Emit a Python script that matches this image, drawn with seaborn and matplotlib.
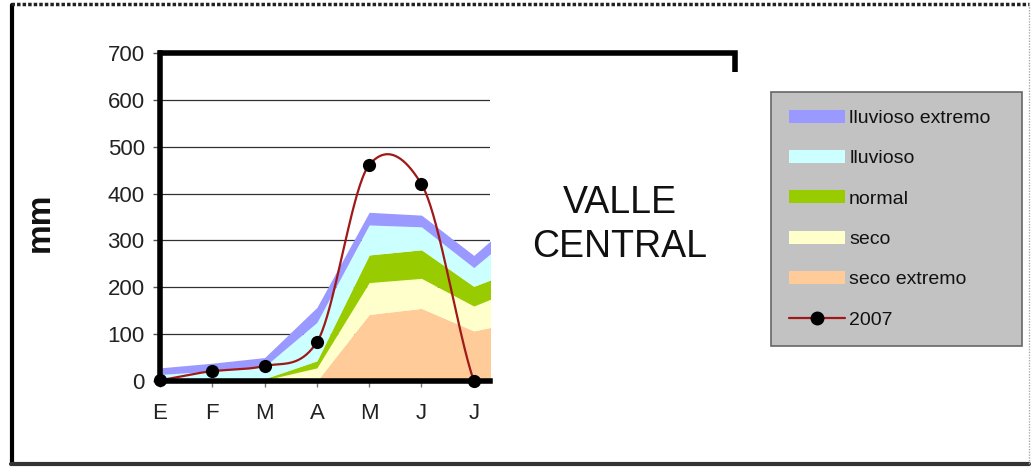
import numpy as np
import matplotlib
matplotlib.use("Agg")
import matplotlib.pyplot as plt
from matplotlib.lines import Line2D
from matplotlib.patches import Patch
import seaborn as sns

# Months (Spanish initials); the last one lies just past the visible range
months = ["E", "F", "M", "A", "M", "J", "J", "A"]

# Monthly rainfall bands (mm), stacked from the bottom up
seco_extremo = [0, 0, 0, 0, 142, 155, 107, 130]
seco = [1, 1, 2, 28, 68, 64, 53, 75]
normal = [1, 2, 3, 15, 59, 61, 42, 40]
lluvioso = [12, 18, 26, 82, 64, 49, 40, 90]
lluvioso_extremo = [14, 17, 19, 32, 27, 25, 26, 30]

# Observed rainfall 2007, January to July (mm)
obs_2007 = [2, 21, 32, 83, 461, 420, 0]

band_names = ["seco extremo", "seco", "normal", "lluvioso", "lluvioso extremo"]
band_colors = ["#ffcc99", "#ffffcc", "#99cc00", "#ccffff", "#9999ff"]

sns.set_theme(style="white")
plt.rcParams["font.family"] = ["Liberation Sans", "DejaVu Sans"]

W, H = 1031, 467
fig = plt.figure(figsize=(W / 100, H / 100), dpi=100)
fig.patch.set_facecolor("white")


def fx(px):
    return px / W


def fy(py):
    return 1 - py / H


ax = fig.add_axes([fx(160), fy(381), fx(490) - fx(160), fy(53) - fy(381)])
ax.set_facecolor("white")

x = np.arange(len(months))
bands = [seco_extremo, seco, normal, lluvioso, lluvioso_extremo]
base = np.zeros(len(months))
for vals, color in zip(bands, band_colors):
    top = base + np.asarray(vals, dtype=float)
    ax.fill_between(x, base, top, color=color, linewidth=0, zorder=2)
    base = top


def smooth(xs, ys, n=40, tension=0.8):
    """Cardinal-spline curve through the points, like a smoothed line chart."""
    xs = np.asarray(xs, float)
    ys = np.asarray(ys, float)
    px = np.concatenate([[2 * xs[0] - xs[1]], xs, [2 * xs[-1] - xs[-2]]])
    py = np.concatenate([[2 * ys[0] - ys[1]], ys, [2 * ys[-1] - ys[-2]]])
    out_x, out_y = [], []
    for i in range(1, len(px) - 2):
        t = np.linspace(0, 1, n, endpoint=False)
        p0, p1, p2, p3 = py[i - 1], py[i], py[i + 1], py[i + 2]
        m1 = tension * (p2 - p0) / 2
        m2 = tension * (p3 - p1) / 2
        h00 = 2 * t**3 - 3 * t**2 + 1
        h10 = t**3 - 2 * t**2 + t
        h01 = -2 * t**3 + 3 * t**2
        h11 = t**3 - t**2
        out_y.append(h00 * p1 + h10 * m1 + h01 * p2 + h11 * m2)
        out_x.append(px[i] + t * (px[i + 1] - px[i]))
    out_x.append([xs[-1]])
    out_y.append([ys[-1]])
    return np.concatenate(out_x), np.concatenate(out_y)


sx, sy = smooth(np.arange(len(obs_2007)), obs_2007)
sns.lineplot(x=sx, y=sy, ax=ax, color="#a01818", linewidth=1.6, sort=False,
             zorder=4, clip_on=False)
sns.scatterplot(x=np.arange(len(obs_2007)), y=obs_2007, ax=ax, color="black",
                s=90, edgecolor="black", linewidth=0, zorder=5, clip_on=False)

ax.set_yticks(range(0, 701, 100))
ax.set_xticks(x)
ax.set_xticklabels(months)
ax.set_xlim(0, 6.31)
ax.set_ylim(0, 700)
for yv in range(100, 700, 100):
    ax.axhline(yv, color="#303030", linewidth=0.9, zorder=1)

for side in ["top", "right"]:
    ax.spines[side].set_visible(False)
for side in ["left", "bottom"]:
    ax.spines[side].set_linewidth(4.0)
    ax.spines[side].set_color("black")
    ax.spines[side].set_zorder(6)
ax.spines["bottom"].set_capstyle("projecting")

ax.tick_params(axis="y", which="major", left=True, length=5, width=1,
               color="#555555", labelsize=16, pad=6, labelcolor="#222222")
ax.tick_params(axis="x", which="major", bottom=True, length=4, width=1,
               color="#777777", labelsize=16, pad=12, labelcolor="#222222")

# Thick upper border of the plot area
fig.add_artist(Line2D([fx(158), fx(735), fx(735)], [fy(53), fy(53), fy(72)],
                      color="black", linewidth=4.0, solid_joinstyle="miter",
                      solid_capstyle="butt"))

# Axis title and region name
fig.text(fx(40), fy(222), "mm", rotation=90, ha="center", va="center",
         fontsize=24, fontweight="bold", color="#111111")
fig.text(fx(620), fy(225), "VALLE\nCENTRAL", ha="center", va="center",
         fontsize=27, linespacing=1.28, color="#111111")

# Legend
handles = [Patch(facecolor=c, edgecolor="none", label=n)
           for n, c in zip(band_names, band_colors)][::-1]
handles.append(Line2D([], [], color="#a01818", linewidth=1.6, marker="o",
                      markersize=9, markerfacecolor="black",
                      markeredgecolor="black", label="2007"))
leg = fig.legend(handles=handles, loc="upper left",
                 bbox_to_anchor=(fx(771), fy(92), fx(1022) - fx(771), 0),
                 mode="expand", frameon=True, fancybox=False, fontsize=14,
                 handlelength=2.9, handleheight=0.65, handletextpad=0.2,
                 labelspacing=1.18, borderpad=0.92, borderaxespad=0,
                 markerscale=1.0)
frame = leg.get_frame()
frame.set_facecolor("#c2c2c2")
frame.set_edgecolor("#666666")
frame.set_linewidth(1.2)
frame.set_alpha(1)
for t in leg.get_texts():
    t.set_color("#111111")

# Outer frame of the figure
fig.add_artist(Line2D([fx(12), fx(12)], [fy(5), fy(464)], color="black",
                      linewidth=3))
fig.add_artist(Line2D([fx(11), fx(1029)], [fy(464), fy(464)], color="#333333",
                      linewidth=3))
fig.add_artist(Line2D([fx(11), fx(1029)], [fy(4), fy(4)], color="#222222",
                      linewidth=2.5, linestyle=(0, (1, 0.6))))
fig.add_artist(Line2D([fx(1029), fx(1029)], [fy(4), fy(464)], color="#aaaaaa",
                      linewidth=1, linestyle=(0, (1, 1))))

fig.savefig("out.png", dpi=100)
